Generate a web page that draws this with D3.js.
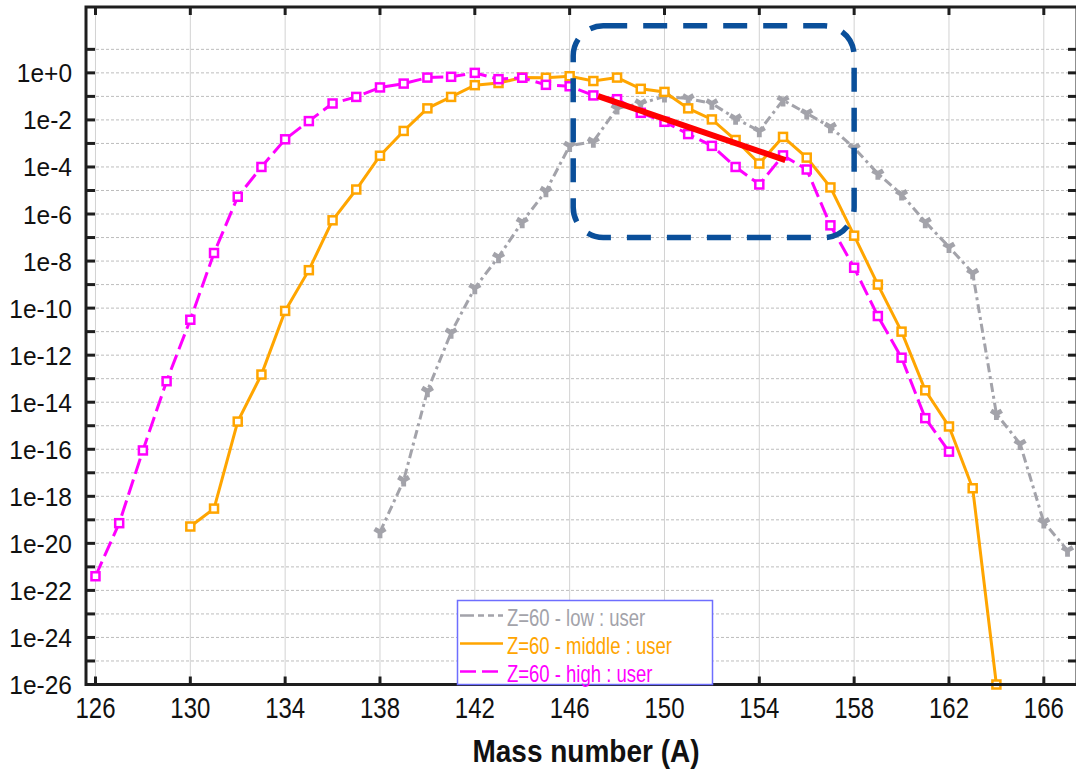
<!DOCTYPE html>
<html>
<head>
<meta charset="utf-8">
<script src="https://cdn.jsdelivr.net/npm/d3@7"></script>
<style>
  body { margin: 0; background: #fff; }
  svg { display: block; font-family: "Liberation Sans", Arial, sans-serif; }
</style>
</head>
<body>
<div id="chart"></div>
<script>
// mass numbers for each series
var massLow = d3.range(138, 168);
var massMiddle = d3.range(130, 165);
var massHigh = d3.range(126, 163);

// yields (log axis)
var yieldLow = [3.0e-20, 4.8e-18, 3.0e-14, 9.1e-12, 7.2e-10, 1.5e-8, 4.6e-7, 9.5e-6, 7.9e-4, 1.2e-3,
  0.031, 0.050, 0.10, 0.081, 0.050, 0.0115, 3.4e-3, 0.069, 0.019, 5.0e-3,
  6.5e-4, 5.2e-5, 6.9e-6, 4.6e-7, 4.0e-8, 3.1e-9, 3.2e-15, 1.7e-16, 7.9e-20, 5.0e-21];
var yieldMiddle = [5.2e-20, 3.0e-19, 1.5e-15, 1.5e-13, 7.6e-11, 4.1e-9, 5.4e-7, 1.1e-5, 3.0e-4, 3.4e-3,
  0.031, 0.095, 0.30, 0.37, 0.63, 0.62, 0.72, 0.45, 0.63, 0.21,
  0.155, 0.031, 0.0105, 1.4e-3, 1.4e-4, 1.9e-3, 2.5e-4, 1.35e-5, 1.2e-7, 1.0e-9,
  1.0e-11, 3.2e-14, 9.3e-16, 2.2e-18, 1.0e-26];
var yieldHigh = [4.0e-22, 7.2e-20, 8.9e-17, 7.8e-14, 3.2e-11, 2.2e-8, 5.4e-6, 1.0e-4, 1.5e-3, 8.9e-3,
  0.050, 0.095, 0.24, 0.35, 0.63, 0.68, 1.0, 0.54, 0.62, 0.31,
  0.27, 0.11, 0.076, 0.020, 8.3e-3, 2.5e-3, 7.9e-4, 1.0e-4, 1.8e-5, 3.1e-4,
  7.8e-5, 3.3e-7, 5.2e-9, 4.6e-11, 7.8e-13, 2.1e-15, 7.9e-17];

var seriesNames = ["Z=60 - low : user", "Z=60 - middle : user", "Z=60 - high : user"];
var xTicks = d3.range(126, 167, 4);
var yExponents = d3.range(-26, 2);

// annotation: trend segment and highlight box (data units)
var trendLine = [[147.2, 0.102], [155.1, 1.95e-4]];
var boxCorners = [[146.15, 1e2], [158.0, 1e-7]];

var width = 1076, height = 771;
var plotL = 86, plotR = 1077, plotT = 7, plotB = 684.5;

var svg = d3.select("#chart").append("svg")
  .attr("width", width)
  .attr("height", height);

var x = d3.scaleLinear().domain([125.6, 167.4]).range([plotL, plotR]);
var y = d3.scaleLog().domain([1e-26, Math.pow(10, 2.8)]).range([plotB, plotT]);

// grid
svg.append("g").selectAll("line")
  .data(xTicks)
  .enter().append("line")
  .attr("x1", d => x(d)).attr("x2", d => x(d))
  .attr("y1", plotT).attr("y2", plotB)
  .attr("stroke", "#d2d2d2").attr("stroke-width", 1);

svg.append("g").selectAll("line")
  .data(yExponents.filter(e => e > -26))
  .enter().append("line")
  .attr("x1", plotL).attr("x2", plotR)
  .attr("y1", d => y(Math.pow(10, d))).attr("y2", d => y(Math.pow(10, d)))
  .attr("stroke", "#bdbdbd").attr("stroke-width", 1)
  .attr("stroke-dasharray", "3 2");

var series = [
  { name: seriesNames[0], xs: massLow, ys: yieldLow, color: "#a3a3aa", dash: "9 4 3 4", marker: "wye" },
  { name: seriesNames[1], xs: massMiddle, ys: yieldMiddle, color: "#ffa500", dash: null, marker: "square" },
  { name: seriesNames[2], xs: massHigh, ys: yieldHigh, color: "#ff00ff", dash: "16 6", marker: "square" }
];

var line = d3.line()
  .x(d => x(d[0]))
  .y(d => y(d[1]));

series.forEach(function (s) {
  var pts = s.xs.map((m, i) => [m, s.ys[i]]);
  svg.append("path")
    .datum(pts)
    .attr("d", line)
    .attr("fill", "none")
    .attr("stroke", s.color)
    .attr("stroke-width", 3)
    .attr("stroke-dasharray", s.dash);

  var g = svg.append("g");
  if (s.marker === "square") {
    g.selectAll("rect")
      .data(pts)
      .enter().append("rect")
      .attr("x", d => x(d[0]) - 4)
      .attr("y", d => y(d[1]) - 4)
      .attr("width", 8).attr("height", 8)
      .attr("fill", "#fff")
      .attr("stroke", s.color)
      .attr("stroke-width", 2.5);
  } else {
    g.selectAll("path")
      .data(pts)
      .enter().append("path")
      .attr("d", d3.symbol().type(d3.symbolWye).size(80))
      .attr("transform", d => "translate(" + x(d[0]) + "," + y(d[1]) + ")")
      .attr("fill", s.color);
  }
});

// red trend
svg.append("line")
  .attr("x1", x(trendLine[0][0])).attr("y1", y(trendLine[0][1]))
  .attr("x2", x(trendLine[1][0])).attr("y2", y(trendLine[1][1]))
  .attr("stroke", "#ff0000")
  .attr("stroke-width", 6);

// blue dashed box
svg.append("rect")
  .attr("x", x(boxCorners[0][0]))
  .attr("y", y(boxCorners[0][1]))
  .attr("width", x(boxCorners[1][0]) - x(boxCorners[0][0]))
  .attr("height", y(boxCorners[1][1]) - y(boxCorners[0][1]))
  .attr("rx", 30).attr("ry", 30)
  .attr("fill", "none")
  .attr("stroke", "#0a4f9a")
  .attr("stroke-width", 5.5)
  .attr("stroke-dasharray", "24 16");

// frame
svg.append("rect")
  .attr("x", plotL).attr("y", plotT)
  .attr("width", plotR - plotL).attr("height", plotB - plotT)
  .attr("fill", "none")
  .attr("stroke", "#1e1e1e")
  .attr("stroke-width", 3);

// inward ticks
var ticks = svg.append("g").attr("stroke", "#1e1e1e").attr("stroke-width", 3);
xTicks.forEach(function (t) {
  ticks.append("line").attr("x1", x(t)).attr("x2", x(t)).attr("y1", plotB).attr("y2", plotB - 8);
  ticks.append("line").attr("x1", x(t)).attr("x2", x(t)).attr("y1", plotT).attr("y2", plotT + 8);
});
yExponents.forEach(function (e) {
  var yy = y(Math.pow(10, e));
  ticks.append("line").attr("x1", plotL).attr("x2", plotL + 9).attr("y1", yy).attr("y2", yy);
  ticks.append("line").attr("x1", plotR).attr("x2", plotR - 9).attr("y1", yy).attr("y2", yy);
});

// y labels
svg.append("g").selectAll("text")
  .data(yExponents.filter(e => e % 2 === 0 && e <= 0))
  .enter().append("text")
  .attr("transform", d => "translate(72," + (y(Math.pow(10, d)) + 9.5) + ") scale(1,1.08)")
  .attr("text-anchor", "end")
  .attr("font-size", 24.5)
  .attr("fill", "#111")
  .text(d => "1e" + (d >= 0 ? "+" : "") + d);

// x labels
svg.append("g").selectAll("text")
  .data(xTicks)
  .enter().append("text")
  .attr("transform", d => "translate(" + x(d) + ",718) scale(1,1.22)")
  .attr("text-anchor", "middle")
  .attr("font-size", 24)
  .attr("fill", "#111")
  .text(d => d);

svg.append("text")
  .attr("transform", "translate(586,762) scale(1,1.15)")
  .attr("text-anchor", "middle")
  .attr("font-size", 28)
  .attr("font-weight", "bold")
  .attr("fill", "#111")
  .text("Mass number (A)");

// legend
var legend = svg.append("g");
legend.append("rect")
  .attr("x", 457.5).attr("y", 600.5)
  .attr("width", 255).attr("height", 84)
  .attr("fill", "#fff")
  .attr("stroke", "#6e6eff")
  .attr("stroke-width", 1.5);

var legendDash = ["14 4 6 4 6 4", null, "16 6"];
series.forEach(function (s, i) {
  var base = 626 + i * 28;
  legend.append("line")
    .attr("x1", 460).attr("x2", 503)
    .attr("y1", base - 10.5).attr("y2", base - 10.5)
    .attr("stroke", s.color)
    .attr("stroke-width", 2.5)
    .attr("stroke-dasharray", legendDash[i]);
  legend.append("text")
    .attr("transform", "translate(507," + base + ") scale(1,1.27)")
    .attr("font-size", 18.5)
    .attr("fill", s.color)
    .text(s.name);
});
</script>
</body>
</html>
